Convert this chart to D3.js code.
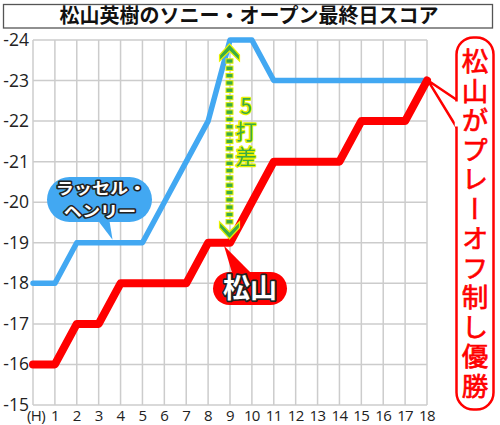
<!DOCTYPE html>
<html><head><meta charset="utf-8">
<script src="https://cdn.jsdelivr.net/npm/d3@7"></script>
<style>
html,body{margin:0;padding:0;background:#fff;}
svg{display:block;font-family:"Noto Sans CJK JP","Noto Sans",sans-serif;}
</style></head>
<body>
<script>
const title = "松山英樹のソニー・オープン最終日スコア";
const holes = ["(H)","1","2","3","4","5","6","7","8","9","10","11","12","13","14","15","16","17","18"];
const matsuyama = [-16,-16,-17,-17,-18,-18,-18,-18,-19,-19,-20,-21,-21,-21,-21,-22,-22,-22,-23];
const henley    = [-18,-18,-19,-19,-19,-19,-20,-21,-22,-24,-24,-23,-23,-23,-23,-23,-23,-23,-23];
const yTicks = [-15,-16,-17,-18,-19,-20,-21,-22,-23,-24];
const yTickLabels = ["-15","-16","-17","-18","-19","-20","-21","-22","-23","-24"];
const henleyLabel = ["ラッセル・","ヘンリー"];
const matsuLabel = "松山";
const gapLabel = "5打差";
const winText = "松山がプレーオフ制し優勝";

const W=500,H=425;
const svg=d3.select("body").append("svg").attr("width",W).attr("height",H);

const x=d3.scalePoint().domain(holes).range([33,427]);
const y=d3.scaleLinear().domain([-15,-24]).range([405,40]);

// title
svg.append("rect").attr("x",3.5).attr("y",4.5).attr("width",489).attr("height",23.5)
  .attr("fill","#fff").attr("stroke","#555").attr("stroke-width",1.3);
svg.append("text").attr("x",249).attr("y",23).attr("text-anchor","middle")
  .attr("font-size",20).attr("font-weight","bold").attr("fill","#111").text(title);

// grid
const grid=svg.append("g").attr("stroke","#cccccc").attr("stroke-width",1.5);
grid.selectAll(".v").data(holes).join("line")
  .attr("x1",d=>x(d)).attr("x2",d=>x(d)).attr("y1",y(-24)).attr("y2",y(-15));
grid.selectAll(".h").data(yTicks).join("line")
  .attr("x1",x(holes[0])).attr("x2",x(holes[holes.length-1])).attr("y1",d=>y(d)).attr("y2",d=>y(d));

// axes labels
svg.append("g").selectAll("text").data(yTicks).join("text")
  .attr("x",29).attr("y",d=>y(d)+6).attr("text-anchor","end")
  .attr("font-size",17.5).attr("fill","#222").attr("font-family","'Open Sans','Noto Sans',sans-serif")
  .text((d,i)=>yTickLabels[i]);
svg.append("g").selectAll("text").data(holes).join("text")
  .attr("x",d=>x(d)+(d==="(H)"?3:0)).attr("y",421).attr("text-anchor","middle")
  .attr("font-size",15).attr("fill","#222").attr("letter-spacing",-0.6)
  .attr("font-family","'Open Sans','Noto Sans',sans-serif")
  .text(d=>d);

const line=d3.line().x((d,i)=>x(holes[i])).y(d=>y(d));
svg.append("path").datum(henley).attr("d",line).attr("fill","none")
  .attr("stroke","#42a8f2").attr("stroke-width",5.5).attr("stroke-linejoin","round").attr("stroke-linecap","round");
svg.append("path").datum(matsuyama).attr("d",line).attr("fill","none")
  .attr("stroke","#ff0000").attr("stroke-width",8).attr("stroke-linejoin","round").attr("stroke-linecap","round");

// green double arrow at hole 9
const ax=x("9")-0.5;
const aTop=y(-24)+4, aBot=y(-19)-4;
const ag=svg.append("g");
const dashTop=aTop+17, dashBot=aBot-17;
const nd=Math.floor((dashBot-dashTop)/7);
ag.selectAll("rect").data(d3.range(nd+1)).join("rect")
  .attr("x",ax-3.5).attr("y",d=>dashTop+d*(dashBot-dashTop)/nd-2.2).attr("width",7).attr("height",4.4)
  .attr("fill","#3aab45").attr("stroke","#e6f000").attr("stroke-width",1);
function chevron(tipY,dir){
  const h=17,hw=10,notch=7;
  return `M${ax},${tipY} L${ax+hw},${tipY+dir*(h-6)} L${ax+hw},${tipY+dir*h} L${ax},${tipY+dir*notch} L${ax-hw},${tipY+dir*h} L${ax-hw},${tipY+dir*(h-6)} Z`;
}
ag.append("path").attr("d",chevron(aTop,1)).attr("fill","#3aab45").attr("stroke","#e6f000").attr("stroke-width",1.2);
ag.append("path").attr("d",chevron(aBot,-1)).attr("fill","#3aab45").attr("stroke","#e6f000").attr("stroke-width",1.2);
ag.append("text").attr("x",246).attr("y",133).attr("text-anchor","middle")
  .attr("writing-mode","vertical-rl").style("text-orientation","upright").attr("letter-spacing",4)
  .attr("font-size",21).attr("fill","#3aab45").attr("stroke","#e6f000").attr("stroke-width",2.5)
  .attr("paint-order","stroke").attr("stroke-linejoin","round").text(gapLabel);

// Henley bubble
const hb=svg.append("g");
hb.append("path").attr("d",`M96,218 L${x("4")-8},${y(-19)-3} L109,218 Z`).attr("fill","#42a8f2");
hb.append("rect").attr("x",47).attr("y",177).attr("width",105).attr("height",45).attr("rx",22.5)
  .attr("fill","#42a8f2");
hb.selectAll("text").data(henleyLabel).join("text")
  .attr("transform",(d,i)=>`translate(${i===0?101:100},${i===0?194:216.5}) scale(1.17,1)`)
  .attr("text-anchor","middle")
  .attr("font-size",15.5).attr("font-weight","bold").attr("fill","#fff")
  .attr("stroke","#222").attr("stroke-width",3).attr("paint-order","stroke").attr("stroke-linejoin","round")
  .text(d=>d);

// Matsuyama label
const mb=svg.append("g");
mb.append("path").attr("d",`M${x("9")-6},${y(-19)+3} L233,276 L254,276 Z`).attr("fill","#ff0000");
mb.append("rect").attr("x",213).attr("y",272).attr("width",74).attr("height",33).attr("rx",16.5).attr("fill","#ff0000");
mb.append("text").attr("x",250).attr("y",298).attr("text-anchor","middle")
  .attr("font-size",27).attr("font-weight","bold").attr("fill","#fff")
  .attr("stroke","#222").attr("stroke-width",3.5).attr("paint-order","stroke").attr("stroke-linejoin","round")
  .text(matsuLabel);

// right callout
const rc=svg.append("g");
const tipX=x("18")+1, tipY=y(-23);
rc.append("path").attr("d",`M457,100 L${tipX},${tipY} L457,128`).attr("fill","#fff")
  .attr("stroke","#ff0000").attr("stroke-width",2.5).attr("stroke-linejoin","miter");
rc.append("rect").attr("x",456.5).attr("y",37.5).attr("width",37).attr("height",372).attr("rx",17)
  .attr("fill","#fff").attr("stroke","#ff0000").attr("stroke-width",2.5);
rc.append("line").attr("x1",456.5).attr("x2",456.5).attr("y1",101.5).attr("y2",126.5)
  .attr("stroke","#fff").attr("stroke-width",3.5);
rc.append("text").attr("x",475).attr("y",225).attr("text-anchor","middle")
  .attr("writing-mode","vertical-rl").style("text-orientation","upright").attr("letter-spacing",3)
  .attr("font-size",26.5).attr("fill","#ff0000").attr("stroke","#ff0000").attr("stroke-width",0.7)
  .text(winText);
</script>
</body></html>
